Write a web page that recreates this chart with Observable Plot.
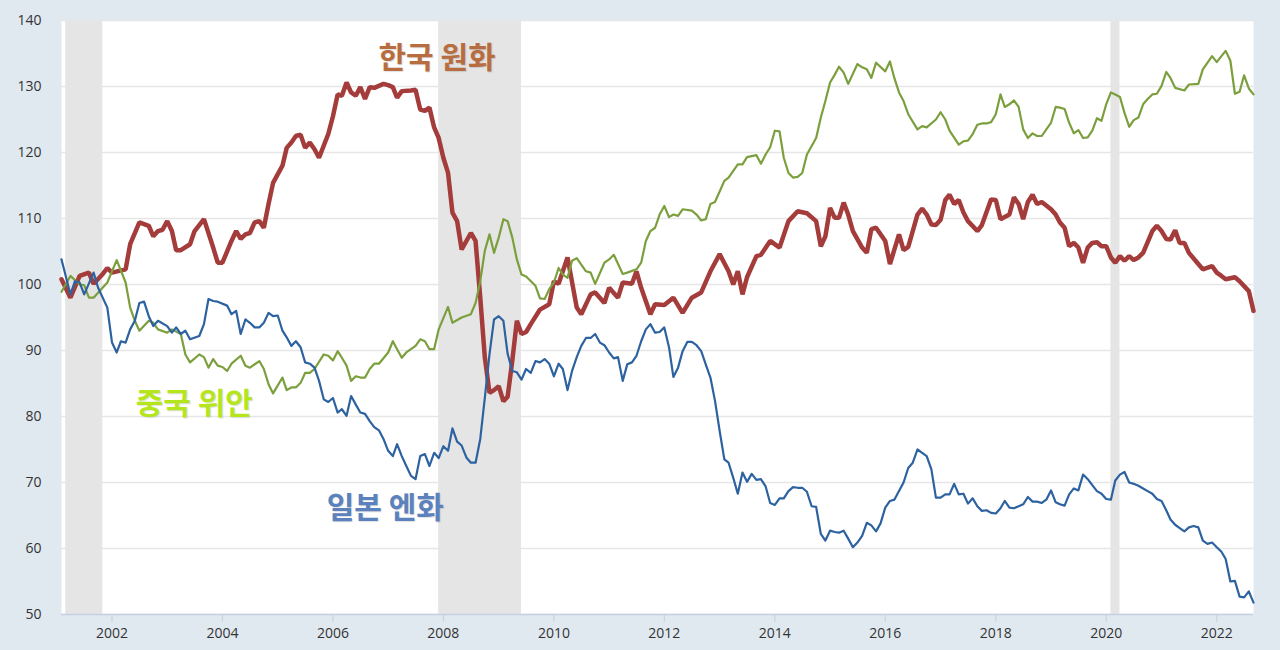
<!DOCTYPE html>
<html><head><meta charset="utf-8">
<script src="https://cdn.jsdelivr.net/npm/d3@7"></script>
<script src="https://cdn.jsdelivr.net/npm/@observablehq/plot@0.6"></script>
<style>
html,body{margin:0;padding:0;background:#e1e9f0;}
#chart svg{display:block;background:#e1e9f0;}
#chart svg .curlabel text{text-shadow:1px 1px 1px rgba(0,0,0,0.12);}
</style></head>
<body><div id="chart"></div>
<script>
// 한국 원화 (KRW)
const krwDates = ["2001-02","2001-04","2001-06","2001-08","2001-09","2001-11","2001-12","2002-01","2002-04","2002-05","2002-07","2002-09","2002-10","2002-11","2002-12","2003-01","2003-02","2003-03","2003-04","2003-06","2003-07","2003-09","2003-11","2003-12","2004-01","2004-03","2004-04","2004-05","2004-06","2004-07","2004-08","2004-09","2004-10","2004-11","2004-12","2005-02","2005-03","2005-04","2005-05","2005-06","2005-07","2005-08","2005-09","2005-10","2005-12","2006-01","2006-02","2006-03","2006-04","2006-05","2006-06","2006-07","2006-08","2006-09","2006-10","2006-12","2007-01","2007-02","2007-03","2007-04","2007-06","2007-07","2007-08","2007-09","2007-10","2007-11","2007-12","2008-01","2008-02","2008-03","2008-04","2008-05","2008-07","2008-08","2008-09","2008-10","2008-11","2008-12","2009-01","2009-02","2009-03","2009-04","2009-05","2009-06","2009-07","2009-08","2009-10","2009-12","2010-01","2010-02","2010-04","2010-06","2010-07","2010-09","2010-10","2010-12","2011-01","2011-03","2011-04","2011-06","2011-07","2011-08","2011-10","2011-11","2012-01","2012-03","2012-05","2012-07","2012-09","2012-11","2013-01","2013-03","2013-04","2013-05","2013-06","2013-07","2013-09","2013-10","2013-12","2014-02","2014-04","2014-06","2014-08","2014-10","2014-11","2014-12","2015-01","2015-02","2015-03","2015-04","2015-05","2015-06","2015-08","2015-09","2015-10","2015-11","2016-01","2016-02","2016-04","2016-05","2016-06","2016-08","2016-09","2016-10","2016-11","2016-12","2017-01","2017-02","2017-03","2017-04","2017-05","2017-06","2017-07","2017-09","2017-10","2017-12","2018-01","2018-02","2018-04","2018-05","2018-06","2018-07","2018-08","2018-09","2018-10","2018-11","2019-01","2019-02","2019-03","2019-04","2019-05","2019-06","2019-07","2019-08","2019-09","2019-10","2019-11","2019-12","2020-01","2020-02","2020-03","2020-04","2020-05","2020-06","2020-07","2020-08","2020-09","2020-11","2020-12","2021-01","2021-02","2021-03","2021-04","2021-05","2021-06","2021-07","2021-09","2021-10","2021-12","2022-01","2022-02","2022-03","2022-05","2022-06","2022-08","2022-09"];
const krwValues = [100.8,98.0,101.3,101.8,100.1,101.6,102.5,101.8,102.3,106.1,109.4,108.9,107.3,108.1,108.3,109.6,108.1,105.2,105.2,106.1,108.1,109.9,105.6,103.3,103.3,106.6,108.1,106.9,107.6,107.8,109.4,109.6,108.6,112.2,115.4,118.0,120.7,121.5,122.5,122.7,120.7,121.5,120.5,119.2,122.8,125.5,128.8,128.6,130.6,129.1,128.6,129.9,128.1,129.9,129.8,130.4,130.2,129.9,128.3,129.3,129.4,129.5,126.5,126.3,126.8,123.8,122.2,119.2,116.9,110.9,109.6,105.3,107.8,106.6,98.0,89.0,83.6,84.0,84.6,82.3,83.0,88.5,94.5,92.5,92.8,94.0,96.2,97.0,100.5,100.1,104.1,96.5,95.5,98.5,98.8,97.2,99.5,98.0,100.3,100.1,102.0,99.5,95.5,97.0,96.9,98.0,95.7,98.0,98.8,102.0,104.6,102.0,100.0,102.0,98.5,101.1,104.3,104.5,106.6,105.6,109.6,111.1,110.8,109.6,105.8,107.3,111.6,110.1,110.1,112.4,110.6,108.1,105.6,104.8,108.4,108.6,106.6,103.1,107.6,105.2,105.7,110.6,111.5,110.6,109.1,109.0,109.8,112.8,113.6,112.2,112.8,110.9,109.6,108.1,109.0,112.9,112.8,109.9,110.6,113.2,112.2,109.9,112.5,113.6,112.2,112.5,111.4,110.6,109.4,108.6,105.8,106.3,105.6,103.3,105.6,106.3,106.4,105.8,105.8,104.1,103.3,104.3,103.6,104.3,103.7,104.1,104.8,108.1,108.9,108.1,106.9,106.8,108.2,106.3,106.3,104.8,103.1,102.3,102.8,101.8,101.3,100.8,101.1,100.5,99.0,96.0];

// 중국 위안 (CNY)
const cnyDates = ["2001-02","2001-04","2001-06","2001-07","2001-08","2001-09","2001-12","2002-02","2002-04","2002-05","2002-06","2002-07","2002-09","2002-10","2002-11","2003-01","2003-02","2003-04","2003-05","2003-06","2003-08","2003-09","2003-10","2003-11","2003-12","2004-01","2004-02","2004-03","2004-05","2004-06","2004-07","2004-09","2004-10","2004-11","2004-12","2005-02","2005-03","2005-04","2005-05","2005-06","2005-07","2005-08","2005-09","2005-11","2005-12","2006-01","2006-02","2006-03","2006-04","2006-05","2006-06","2006-07","2006-08","2006-09","2006-10","2006-11","2007-01","2007-02","2007-03","2007-04","2007-05","2007-07","2007-08","2007-09","2007-10","2007-11","2007-12","2008-02","2008-03","2008-05","2008-07","2008-08","2008-09","2008-10","2008-11","2008-12","2009-01","2009-02","2009-03","2009-04","2009-05","2009-06","2009-07","2009-09","2009-10","2009-11","2009-12","2010-01","2010-02","2010-03","2010-04","2010-05","2010-06","2010-08","2010-09","2010-10","2010-12","2011-01","2011-02","2011-04","2011-05","2011-07","2011-08","2011-09","2011-10","2011-11","2011-12","2012-01","2012-02","2012-03","2012-04","2012-05","2012-07","2012-08","2012-09","2012-10","2012-11","2012-12","2013-02","2013-03","2013-05","2013-06","2013-07","2013-09","2013-10","2013-11","2013-12","2014-01","2014-02","2014-03","2014-04","2014-05","2014-06","2014-07","2014-08","2014-10","2014-11","2014-12","2015-01","2015-02","2015-03","2015-04","2015-05","2015-07","2015-08","2015-09","2015-10","2015-11","2016-01","2016-02","2016-03","2016-04","2016-05","2016-06","2016-08","2016-09","2016-10","2016-12","2017-01","2017-02","2017-03","2017-05","2017-06","2017-07","2017-08","2017-09","2017-10","2017-11","2017-12","2018-01","2018-02","2018-03","2018-04","2018-05","2018-06","2018-07","2018-08","2018-09","2018-10","2018-11","2018-12","2019-01","2019-02","2019-03","2019-04","2019-05","2019-06","2019-07","2019-08","2019-09","2019-10","2019-11","2019-12","2020-01","2020-02","2020-03","2020-04","2020-05","2020-06","2020-07","2020-08","2020-09","2020-10","2020-11","2020-12","2021-01","2021-02","2021-03","2021-04","2021-06","2021-07","2021-09","2021-10","2021-12","2022-01","2022-02","2022-03","2022-04","2022-05","2022-06","2022-07","2022-08","2022-09"];
const cnyValues = [98.9,101.3,100.0,99.9,98.0,98.0,100.3,103.7,100.3,96.5,94.5,93.0,94.5,94.2,93.2,92.7,93.2,92.5,89.4,88.2,89.4,89.0,87.4,88.7,87.7,87.5,86.9,88.0,89.2,87.7,87.4,88.4,87.2,84.9,83.5,85.9,84.0,84.4,84.4,85.1,86.6,86.6,87.2,89.4,89.2,88.5,89.9,88.9,87.7,85.4,86.1,85.9,85.9,87.2,88.0,88.0,89.7,91.4,90.2,88.9,89.7,90.7,91.7,91.4,90.2,90.2,93.2,96.6,94.2,95.0,95.5,97.2,100.5,105.1,107.6,104.8,107.1,109.9,109.6,107.1,103.8,101.5,101.2,99.8,97.9,97.8,99.3,100.3,102.5,101.5,101.0,103.6,104.0,102.0,101.8,100.1,103.3,103.8,104.5,101.6,101.8,102.3,103.3,106.6,108.1,108.6,110.6,111.9,110.2,110.6,110.4,111.4,111.2,110.6,109.7,109.9,112.2,112.5,115.7,116.2,118.2,118.2,119.3,119.6,118.3,119.7,120.8,123.3,123.2,119.2,116.9,116.2,116.3,116.9,119.7,122.2,125.3,127.8,130.6,131.8,133.0,132.1,130.4,133.4,132.9,132.6,131.3,133.6,132.3,133.8,131.3,129.1,127.8,125.8,123.5,124.0,123.8,125.0,126.1,125.0,123.3,121.2,121.7,121.8,122.8,124.2,124.4,124.4,124.6,125.8,128.8,126.9,127.3,127.9,126.9,123.5,122.2,122.9,122.5,122.5,123.5,124.5,126.9,126.8,126.6,124.5,122.9,123.4,122.2,122.3,123.3,125.2,124.8,127.3,129.1,128.8,128.4,126.0,123.9,124.9,125.3,127.3,128.1,128.8,128.9,130.1,132.2,131.3,129.8,129.4,130.3,130.4,132.6,134.6,133.7,134.6,135.4,133.9,128.9,129.2,131.7,129.7,128.8];

// 일본 엔화 (JPY)
const jpyDates = ["2001-02","2001-04","2001-05","2001-06","2001-07","2001-09","2001-10","2001-12","2002-01","2002-02","2002-03","2002-04","2002-05","2002-06","2002-07","2002-08","2002-09","2002-10","2002-11","2003-01","2003-02","2003-03","2003-04","2003-05","2003-06","2003-08","2003-09","2003-10","2003-11","2003-12","2004-02","2004-03","2004-04","2004-05","2004-06","2004-07","2004-08","2004-09","2004-10","2004-11","2004-12","2005-01","2005-02","2005-03","2005-04","2005-05","2005-06","2005-07","2005-08","2005-09","2005-10","2005-11","2005-12","2006-01","2006-02","2006-03","2006-04","2006-05","2006-06","2006-07","2006-08","2006-09","2006-10","2006-11","2006-12","2007-01","2007-02","2007-03","2007-04","2007-05","2007-06","2007-07","2007-08","2007-09","2007-10","2007-11","2007-12","2008-01","2008-02","2008-03","2008-04","2008-05","2008-06","2008-07","2008-08","2008-09","2008-10","2008-11","2008-12","2009-01","2009-02","2009-03","2009-04","2009-05","2009-06","2009-07","2009-08","2009-09","2009-10","2009-11","2009-12","2010-01","2010-02","2010-03","2010-04","2010-05","2010-06","2010-07","2010-08","2010-09","2010-10","2010-11","2010-12","2011-01","2011-02","2011-03","2011-04","2011-05","2011-06","2011-07","2011-08","2011-09","2011-10","2011-11","2011-12","2012-01","2012-02","2012-03","2012-04","2012-05","2012-06","2012-07","2012-08","2012-09","2012-10","2012-11","2012-12","2013-01","2013-02","2013-03","2013-04","2013-05","2013-06","2013-07","2013-08","2013-09","2013-10","2013-11","2013-12","2014-01","2014-02","2014-03","2014-04","2014-05","2014-06","2014-07","2014-08","2014-09","2014-10","2014-11","2014-12","2015-01","2015-02","2015-03","2015-04","2015-05","2015-06","2015-07","2015-08","2015-09","2015-10","2015-11","2015-12","2016-01","2016-02","2016-03","2016-04","2016-05","2016-06","2016-07","2016-08","2016-09","2016-10","2016-11","2016-12","2017-01","2017-02","2017-03","2017-04","2017-05","2017-06","2017-07","2017-08","2017-09","2017-10","2017-11","2017-12","2018-01","2018-02","2018-03","2018-04","2018-05","2018-06","2018-07","2018-08","2018-09","2018-10","2018-11","2018-12","2019-01","2019-02","2019-03","2019-04","2019-05","2019-06","2019-07","2019-08","2019-09","2019-10","2019-11","2019-12","2020-01","2020-02","2020-03","2020-04","2020-05","2020-06","2020-07","2020-08","2020-09","2020-10","2020-11","2020-12","2021-01","2021-02","2021-03","2021-04","2021-05","2021-06","2021-07","2021-08","2021-09","2021-10","2021-11","2021-12","2022-01","2022-02","2022-03","2022-04","2022-05","2022-06","2022-07","2022-08","2022-09"];
const jpyValues = [103.8,98.5,100.5,100.3,98.5,101.8,99.5,96.5,91.2,89.7,91.4,91.2,93.2,94.5,97.2,97.4,95.2,93.7,94.5,93.7,92.7,93.5,92.5,93.0,91.7,92.2,94.0,97.8,97.5,97.4,96.8,95.5,96.0,92.5,94.7,94.2,93.5,93.5,94.2,95.7,95.2,95.3,93.0,92.0,90.7,91.4,90.5,88.2,88.0,87.4,85.4,82.6,82.2,82.8,80.6,81.1,80.1,83.1,81.8,80.6,80.4,79.3,78.4,77.9,76.6,74.8,74.0,75.8,74.0,72.5,71.0,70.5,74.0,74.3,72.5,74.5,73.7,75.5,74.8,78.2,76.2,75.6,73.8,73.0,73.0,76.6,82.8,89.4,94.7,95.2,94.5,89.5,86.9,86.7,85.6,87.2,86.6,88.4,88.2,88.7,88.0,86.1,88.0,87.2,84.0,86.9,89.0,90.7,91.9,91.9,92.5,91.2,90.8,89.7,88.8,89.0,85.4,87.9,88.2,89.2,91.4,93.2,94.0,92.7,92.8,93.5,90.5,86.0,87.4,89.9,91.3,91.3,90.8,89.9,87.9,85.9,82.4,77.8,73.5,73.0,70.7,68.3,71.5,70.1,71.3,70.4,70.5,69.4,66.9,66.6,67.6,67.6,68.7,69.3,69.2,69.2,68.6,66.4,66.3,62.2,61.2,62.7,62.5,62.4,62.7,61.5,60.2,60.9,61.9,63.9,63.5,62.6,63.8,66.2,67.2,67.4,68.7,70.0,72.2,73.0,75.0,74.5,74.0,72.0,67.7,67.7,68.2,68.2,69.8,68.2,68.3,66.8,67.6,66.4,65.7,65.8,65.4,65.3,66.1,67.2,66.2,66.1,66.4,66.7,67.8,67.1,67.1,66.9,67.4,68.8,67.0,66.7,66.5,68.2,69.1,68.8,71.2,70.5,69.6,68.7,68.3,67.5,67.4,70.3,71.2,71.6,70.0,69.8,69.5,69.1,68.7,68.3,67.5,67.2,65.8,64.4,63.6,63.1,62.6,63.2,63.4,63.2,61.2,60.7,60.9,60.2,59.5,58.4,55.0,55.1,52.7,52.6,53.5,51.8];

// 경기침체 기간 (recessions)
const recStart = ["2001-03","2007-12","2020-02"];
const recEnd   = ["2001-11","2009-06","2020-04"];

// 라벨
const labelText  = ["한국 원화","중국 위안","일본 엔화"];
const labelDate  = ["2007-11-20","2003-06-29","2006-12-13"];
const labelValue = [134.3, 81.9, 66.1];
const labelColor = ["#b76d3f","#b5e61d","#5b82bd"];

const yTicks = [50,60,70,80,90,100,110,120,130,140];

const pm = d3.utcParse("%Y-%m");
const pd = d3.utcParse("%Y-%m-%d");
const toRows = (ds, vs) => ds.map((d, i) => ({date: pm(d), value: vs[i]}));
const krw = toRows(krwDates, krwValues);
const cny = toRows(cnyDates, cnyValues);
const jpy = toRows(jpyDates, jpyValues);
const rec = recStart.map((s, i) => ({start: pm(s), end: pm(recEnd[i])}));
const labels = labelText.map((t, i) => ({text: t, date: pd(labelDate[i]), value: labelValue[i], color: labelColor[i]}));

const chart = Plot.plot({
  width: 1280,
  height: 650,
  marginLeft: 61,
  marginRight: 27,
  marginTop: 20,
  marginBottom: 36,
  style: {fontFamily: "'Open Sans', 'DejaVu Sans', sans-serif", fontSize: "14px", color: "#333", background: "#e1e9f0", overflow: "visible"},
  x: {type: "utc", domain: [pm("2001-02"), pm("2022-09")]},
  y: {domain: [50, 140]},
  color: {type: "identity"},
  marks: [
    Plot.frame({fill: "white", stroke: null}),
    Plot.gridY(yTicks, {stroke: "#e6e6e6", strokeOpacity: 1, strokeWidth: 1.3}),
    Plot.rect(rec, {x1: "start", x2: "end", fill: "#e5e5e5"}),
    Plot.ruleY([50], {stroke: "#c3d0e3", strokeWidth: 1.5}),
    Plot.axisY(yTicks, {tickSize: 0, tickPadding: 20, fill: "#333", label: null, fontSize: 14}),
    Plot.axisX({ticks: d3.utcYear.every(2), tickFormat: "%Y", tickSize: 8, tickPadding: 6, stroke: "#c3d0e3", fill: "#333", label: null, fontSize: 14}),
    Plot.line(krw, {x: "date", y: "value", stroke: "#a33c3a", strokeWidth: 4.5, strokeLinejoin: "miter"}),
    Plot.line(cny, {x: "date", y: "value", stroke: "#7c9f3d", strokeWidth: 2.2}),
    Plot.line(jpy, {x: "date", y: "value", stroke: "#2d62a0", strokeWidth: 2.2}),
    Plot.text(labels, {x: "date", y: "value", text: "text", fill: "color", fontSize: 30, fontWeight: "bold", fontFamily: "'Noto Sans CJK KR', sans-serif", textAnchor: "middle", className: "curlabel"})
  ]
});
document.getElementById("chart").appendChild(chart);
</script>
</body></html>
